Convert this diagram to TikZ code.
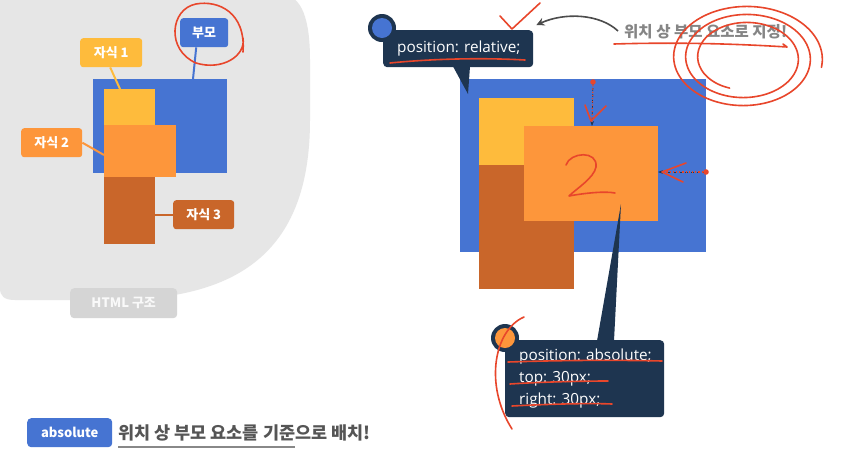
\documentclass[tikz,border=0pt]{standalone}
\usepackage{fontspec}
\setmainfont{Open Sans}
\newfontfamily\kr{Noto Sans CJK KR}
\usetikzlibrary{calc,arrows.meta}
\definecolor{cblue}{HTML}{4674D2}
\definecolor{cyellow}{HTML}{FEBB3C}
\definecolor{corange}{HTML}{FD963B}
\definecolor{cbrown}{HTML}{C9662A}
\definecolor{navy}{HTML}{1E3550}
\definecolor{bggray}{HTML}{E6E6E6}
\definecolor{tagGray}{HTML}{D5D5D5}
\definecolor{hred}{HTML}{E8462B}
\definecolor{notegray}{HTML}{858585}
\definecolor{textgray}{HTML}{555555}
\frenchspacing
\hbadness=10000 \hfuzz=100pt
\begin{document}
\begin{tikzpicture}[x=1pt,y=-1pt,
  blk/.style={inner sep=0pt, anchor=north west, draw=none},
  lbl/.style={rounded corners=3pt, text=white, font=\kr\bfseries\fontsize{13}{15}\selectfont, inner sep=0pt, minimum height=29pt, anchor=north west},
  conn/.style={line width=2pt},
  callout/.style={fill=navy, rounded corners=4pt, text=white, font=\fontsize{15.3}{22}\selectfont, align=left, anchor=north west, inner xsep=14pt},
  hand/.style={draw=hred, line width=1.6pt, line cap=round, line join=round},
]
\useasboundingbox (0,0) rectangle (857,456);
\fill[white] (0,0) rectangle (857,456);
% gray background
\fill[bggray] (0,-5) -- (282,-5) .. controls (302,-5) and (310,20) .. (310,60) -- (310,120)
  .. controls (310,255) and (235,300) .. (110,300) -- (15,300) .. controls (4,300) and (0,296) .. (0,288) -- cycle;

% left diagram
\node[blk, fill=cblue, minimum width=134pt, minimum height=94pt] (pbox) at (93,79) {};
\node[blk, fill=cyellow, minimum width=51pt, minimum height=36pt] (y1) at (104,89) {};
\node[blk, fill=cbrown, minimum width=51pt, minimum height=67pt] (b3) at (104,177) {};
\node[blk, fill=corange, minimum width=72pt, minimum height=52pt] (o2) at (104,125) {};

\node[lbl, fill=cblue, minimum width=48pt] (lp) at (180,18) {부모};
\node[lbl, fill=cyellow, minimum width=62pt] (l1) at (80,38) {자식 1};
\node[lbl, fill=corange, minimum width=61pt] (l2) at (21,128) {자식 2};
\node[lbl, fill=cbrown, minimum width=61pt] (l3) at (173,200) {자식 3};

\draw[conn, cblue] ($(lp.south)+(-8,0)$) -- ($(pbox.north west)+(100,0)$);
\draw[conn, cyellow] ($(l1.south)+(-1,0)$) -- ($(y1.north west)+(16,0)$);
\draw[conn, corange] (l2.east) -- ($(o2.north west)+(0,30)$);
\draw[conn, cbrown] (l3.west -| b3.east) -- (l3.west);

\node[blk, fill=tagGray, rounded corners=4pt, text=white!95!gray, font=\kr\bfseries\fontsize{13}{15}\selectfont, minimum width=107pt, minimum height=30pt] (html) at (70,288) {HTML 구조};

% right diagram
\node[blk, fill=cblue, minimum width=246pt, minimum height=173pt] (rbox) at (460,79) {};
\node[blk, fill=cyellow, minimum width=95pt, minimum height=67pt] (ry) at (479,98) {};
\node[blk, fill=cbrown, minimum width=95pt, minimum height=124pt] (rb) at (479,165) {};
\node[blk, fill=corange, minimum width=134pt, minimum height=95pt] (ro) at (524,126) {};

% relative callout
\node[callout, text width=122pt, minimum height=37pt] (rel) at (383,30) {\mbox{position: relative;}};
\coordinate (reltip) at (468,94);
\fill[navy] ($(rel.south west)+(70,-1)$) -- (reltip) -- ($(rel.south west)+(87,-1)$) -- cycle;
\fill[navy] (rel.north west) ++(-1,-2) circle (14pt);
\fill[cblue] (rel.north west) ++(-1,-2) circle (10pt);

% absolute callout
\node[callout, text width=131pt, minimum height=77pt] (abscall) at (505,340) {\mbox{position: absolute;}\\\mbox{top: 30px;}\\\mbox{right: 30px;}};
\coordinate (abstip) at (621,204);
\fill[navy] ($(abscall.north west)+(92,1)$) -- (abstip) -- ($(abscall.north west)+(109,1)$) -- cycle;
\fill[navy] (abscall.north west) ++(0,-2) circle (14pt);
\fill[corange] (abscall.north west) ++(0,-2) circle (10pt);

% note
\node[anchor=west, inner sep=0pt, font=\kr\bfseries\fontsize{15.5}{18}\selectfont, text=notegray] (note) at (624,32) {위치 상 부모 요소로 지정!};
\draw[-{Stealth[length=8pt,width=8pt]}, line width=1.6pt, black!70] ($(note.west)+(-6,-1)$) .. controls (600,14) and (565,12) .. ($(rel.north east)+(3,-5)$);

% bottom
\node[blk, fill=cblue, rounded corners=4pt, text=white, font=\kr\bfseries\fontsize{13}{15}\selectfont, minimum width=85pt, minimum height=29pt] (absbtn) at (27,418) {absolute};
\node[anchor=west, inner sep=0pt, font=\kr\bfseries\fontsize{17.5}{20}\selectfont, text=textgray] (btxt) at (118,433) {위치 상 부모 요소를 기준으로 배치!};
\draw[textgray!70, line width=1.2pt] ($(btxt.west)+(0,14)$) -- ($(btxt.west)+(177,14)$);

% red hand annotations
\draw[hand] (243,52) .. controls (246,12) and (218,0) .. (196,4) .. controls (170,9) and (166,50) .. (196,63) .. controls (222,71) and (246,56) .. (243,38);
\draw[hand] (500,16) -- (512,29) -- (540,3);
\draw[hand] (390,63) .. controls (440,58) and (490,58) .. (525,60);
\draw[hand] (614,44) .. controls (680,42) and (740,44) .. (787,47) -- (783,44);
\draw[hand] plot[domain=110:1090, samples=140, smooth] ({745+(45+(\x-110)/30)*cos(\x)},{58+(32+(\x-110)/45)*sin(\x)});
% the 2
\draw[hand] (566,165) .. controls (570,152) and (598,150) .. (596,167) .. controls (594,178) and (576,189) .. (569,196) .. controls (585,193) and (605,191) .. (615,193);
% dotted arrows
\draw[navy, dashed, line width=0.8pt, -{Stealth[length=5pt]}] (593,82) -- (592,126);
\draw[hred, dotted, line width=1.2pt] (593,82) -- (592,122);
\fill[hred] (593,82) circle (2.8pt);
\draw[hand] (585,105) -- (591,121) -- (606,106);
\draw[navy, dashed, line width=0.8pt, -{Stealth[length=5pt]}] (706,172) -- (658,172);
\draw[hred, dotted, line width=1.2pt] (706,172) -- (662,172);
\fill[hred] (706,172) circle (2.8pt);
\draw[hand] (686,163) -- (662,172) -- (683,182);
% absolute callout annotations
\draw[hand] (524,317) .. controls (494,330) and (484,385) .. (512,429);
\draw[hand] (508,362) .. controls (570,360) and (620,360) .. (662,361);
\draw[hand] (510,384) .. controls (540,382) and (580,381) .. (608,381);
\draw[hand] (512,406) .. controls (550,404) and (590,403) .. (612,404);
\end{tikzpicture}
\end{document}
